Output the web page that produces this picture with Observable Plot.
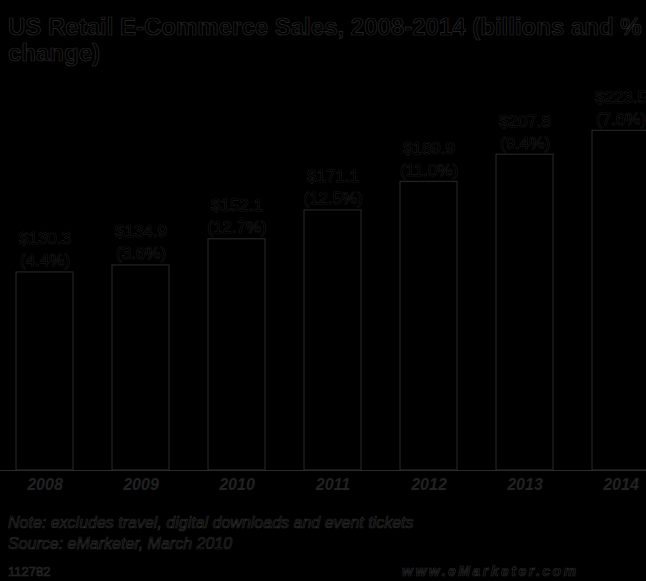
<!DOCTYPE html>
<html>
<head>
<meta charset="utf-8">
<script src="https://cdn.jsdelivr.net/npm/d3@7"></script>
<script src="https://cdn.jsdelivr.net/npm/@observablehq/plot@0.6"></script>
<style>
  html, body { margin: 0; padding: 0; background: #000; width: 646px; height: 581px; overflow: hidden; }
  body { position: relative; font-family: "Liberation Sans", Arial, sans-serif; }
  .ol { color: #000; -webkit-text-stroke: 0.7px #2a2a2a; }
  #title { position: absolute; left: 8px; top: 14px; width: 660px; font-size: 24px; font-weight: bold; line-height: 26px; white-space: normal; z-index: 2; }
  #chart { position: absolute; left: 0; top: 60px; z-index: 1; }
  #note { position: absolute; left: 8px; top: 512px; font-size: 16px; font-style: italic; line-height: 21px; white-space: nowrap; }
  #code { position: absolute; left: 8px; top: 564px; font-size: 13px; white-space: nowrap; }
  #site { position: absolute; left: 402px; top: 563px; font-size: 14px; font-style: italic; font-weight: bold; letter-spacing: 2.5px; white-space: nowrap; }
</style>
</head>
<body>
<div id="title" class="ol">US Retail E-Commerce Sales, 2008-2014 (billions and % change)</div>
<div id="chart"></div>
<div id="note" class="ol">Note: excludes travel, digital downloads and event tickets<br>Source: eMarketer, March 2010</div>
<div id="code" class="ol">112782</div>
<div id="site" class="ol">www.eMarketer.com</div>
<script>
const years = ["2008", "2009", "2010", "2011", "2012", "2013", "2014"];
const sales = [130.3, 134.9, 152.1, 171.1, 189.9, 207.8, 223.5];
const changes = ["4.4%", "3.6%", "12.7%", "12.5%", "11.0%", "9.4%", "7.6%"];

const data = years.map((y, i) => ({
  year: y,
  sales: sales[i],
  label: "$" + sales[i].toFixed(1) + "\n(" + changes[i] + ")"
}));

const outline = "#2a2a2a";

const chart = Plot.plot({
  width: 646,
  height: 440,
  marginTop: 0,
  marginLeft: 0,
  marginRight: 0,
  marginBottom: 25,
  style: { background: "transparent", overflow: "visible", fontFamily: "Liberation Sans, Arial, sans-serif" },
  x: { domain: years, range: [-24.5, 689.5], padding: 0.41, axis: null, label: null },
  y: { domain: [0, 250], range: [410, 30], axis: null },
  marks: [
    Plot.ruleY([0], { stroke: outline, strokeWidth: 1 }),
    Plot.barY(data, { x: "year", y: "sales", fill: "#000", stroke: outline, strokeWidth: 1 }),
    Plot.text(data, {
      x: "year", y: "sales", text: "label",
      lineAnchor: "bottom", dy: -6, lineHeight: 1.3,
      fontSize: 17, fill: "#000", stroke: outline, strokeWidth: 0.7
    }),
    Plot.axisX({
      anchor: "bottom", tickSize: 0, tickPadding: 3, label: null,
      fontSize: 16, fontStyle: "italic", fontWeight: "bold",
      fill: "#222", color: "#222"
    })
  ]
});
document.getElementById("chart").appendChild(chart);
</script>
</body>
</html>
